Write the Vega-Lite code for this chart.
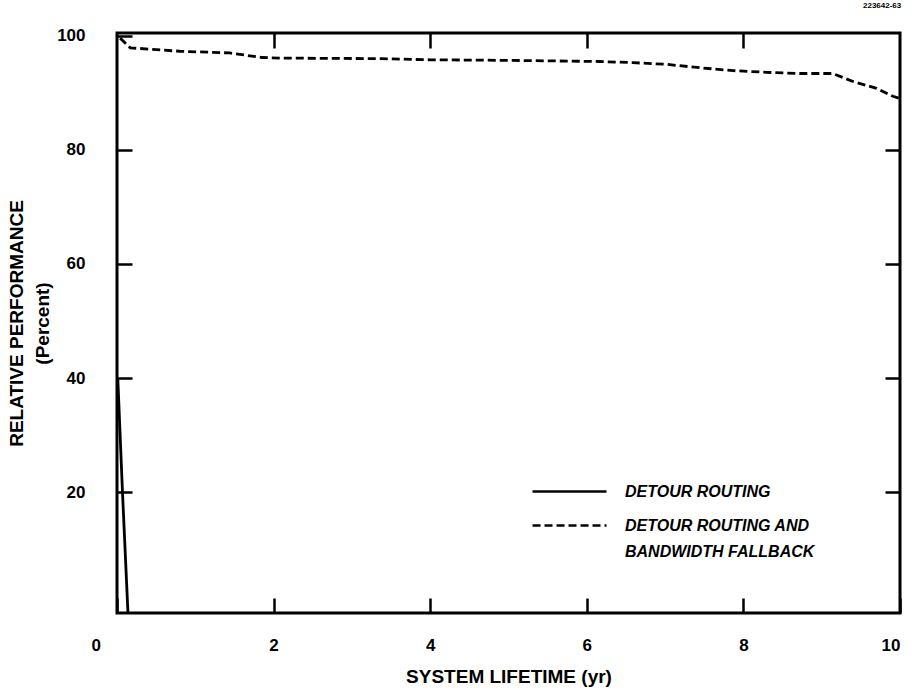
{
  "$schema": "https://vega.github.io/schema/vega-lite/v6.json",
  "width": 783,
  "height": 580,
  "autosize": {"type": "none"},
  "padding": {"left": 117, "top": 33, "right": 19, "bottom": 77},
  "background": "white",
  "title": {"text": "223642-63", "anchor": "end", "fontSize": 8, "font": "Liberation Sans", "fontWeight": "bold", "offset": 17, "color": "#000"},
  "config": {
    "view": {"stroke": "black", "strokeWidth": 3},
    "axis": {"domain": false, "grid": false, "tickColor": "black", "tickWidth": 2.5, "labelColor": "black", "titleColor": "black", "labelFont": "Liberation Sans", "titleFont": "Liberation Sans", "labelFontWeight": "bold", "titleFontWeight": "bold"}
  },
  "data": {"values": [
    {"t": 0.01, "p": 40, "s": "DETOUR ROUTING"},
    {"t": 0.07, "p": 20, "s": "DETOUR ROUTING"},
    {"t": 0.14, "p": -1.2, "s": "DETOUR ROUTING"},
    {"t": 0.04, "p": 99.6, "s": "DETOUR ROUTING AND|BANDWIDTH FALLBACK"},
    {"t": 0.17, "p": 97.9, "s": "DETOUR ROUTING AND|BANDWIDTH FALLBACK"},
    {"t": 0.8, "p": 97.3, "s": "DETOUR ROUTING AND|BANDWIDTH FALLBACK"},
    {"t": 1.44, "p": 97.0, "s": "DETOUR ROUTING AND|BANDWIDTH FALLBACK"},
    {"t": 1.85, "p": 96.2, "s": "DETOUR ROUTING AND|BANDWIDTH FALLBACK"},
    {"t": 2.1, "p": 96.1, "s": "DETOUR ROUTING AND|BANDWIDTH FALLBACK"},
    {"t": 3.36, "p": 96.0, "s": "DETOUR ROUTING AND|BANDWIDTH FALLBACK"},
    {"t": 4.0, "p": 95.8, "s": "DETOUR ROUTING AND|BANDWIDTH FALLBACK"},
    {"t": 5.0, "p": 95.7, "s": "DETOUR ROUTING AND|BANDWIDTH FALLBACK"},
    {"t": 6.17, "p": 95.5, "s": "DETOUR ROUTING AND|BANDWIDTH FALLBACK"},
    {"t": 6.59, "p": 95.3, "s": "DETOUR ROUTING AND|BANDWIDTH FALLBACK"},
    {"t": 7.02, "p": 95.0, "s": "DETOUR ROUTING AND|BANDWIDTH FALLBACK"},
    {"t": 7.45, "p": 94.4, "s": "DETOUR ROUTING AND|BANDWIDTH FALLBACK"},
    {"t": 7.87, "p": 93.9, "s": "DETOUR ROUTING AND|BANDWIDTH FALLBACK"},
    {"t": 8.3, "p": 93.6, "s": "DETOUR ROUTING AND|BANDWIDTH FALLBACK"},
    {"t": 8.72, "p": 93.4, "s": "DETOUR ROUTING AND|BANDWIDTH FALLBACK"},
    {"t": 9.14, "p": 93.4, "s": "DETOUR ROUTING AND|BANDWIDTH FALLBACK"},
    {"t": 9.4, "p": 92.0, "s": "DETOUR ROUTING AND|BANDWIDTH FALLBACK"},
    {"t": 9.7, "p": 90.8, "s": "DETOUR ROUTING AND|BANDWIDTH FALLBACK"},
    {"t": 9.91, "p": 89.4, "s": "DETOUR ROUTING AND|BANDWIDTH FALLBACK"},
    {"t": 10.0, "p": 89.0, "s": "DETOUR ROUTING AND|BANDWIDTH FALLBACK"}
  ]},
  "layer": [
    {
      "mark": {"type": "line", "color": "black", "strokeWidth": 2.8, "clip": true},
      "encoding": {
        "x": {"field": "t", "type": "quantitative", "scale": {"domain": [0, 10], "nice": false, "zero": false},
          "axis": {"title": "SYSTEM LIFETIME (yr)", "titleFontSize": 19, "titlePadding": 14, "values": [0, 2, 4, 6, 8, 10], "tickSize": -15, "labelPadding": 39, "labelFontSize": 17,
            "labelOffset": {"condition": {"test": "datum.value == 0", "value": -26}, "value": 0}}},
        "y": {"field": "p", "type": "quantitative", "scale": {"domain": [-1.2, 100.5], "nice": false, "zero": false},
          "axis": {"title": ["RELATIVE PERFORMANCE", "(Percent)"], "titleFontSize": 19, "titlePadding": 4, "titleLineHeight": 26, "values": [20, 40, 60, 80, 100], "tickSize": -15, "labelPadding": 47, "labelFontSize": 17}},
        "strokeDash": {"field": "s", "type": "nominal",
          "scale": {"domain": ["DETOUR ROUTING", "DETOUR ROUTING AND|BANDWIDTH FALLBACK"], "range": [[1, 0], [8, 4]]},
          "legend": {"title": null, "orient": "none", "legendX": 442, "legendY": 448, "symbolType": "M-4,0H4", "symbolSize": 342, "symbolStrokeWidth": 2.5, "symbolStrokeColor": "black",
            "labelFont": "Liberation Sans", "labelFontSize": 16, "labelFontStyle": "italic", "labelFontWeight": "bold", "labelColor": "black", "labelLimit": 0, "labelOffset": 45, "rowPadding": 15,
            "labelExpr": "split(datum.label, '|')",
            "encode": {"labels": {"update": {"lineHeight": {"value": 26}}}}}}
      }
    },
    {
      "mark": {"type": "line", "opacity": 0},
      "encoding": {
        "x": {"field": "t", "type": "quantitative", "scale": {"domain": [0, 10], "nice": false, "zero": false},
          "axis": {"orient": "top", "title": null, "labels": false, "values": [2, 4, 6, 8], "tickSize": -15}},
        "y": {"field": "p", "type": "quantitative", "scale": {"domain": [-1.2, 100.5], "nice": false, "zero": false},
          "axis": {"orient": "right", "title": null, "labels": false, "values": [20, 40, 60, 80], "tickSize": -15}}
      }
    }
  ],
  "resolve": {"axis": {"x": "independent", "y": "independent"}}
}
